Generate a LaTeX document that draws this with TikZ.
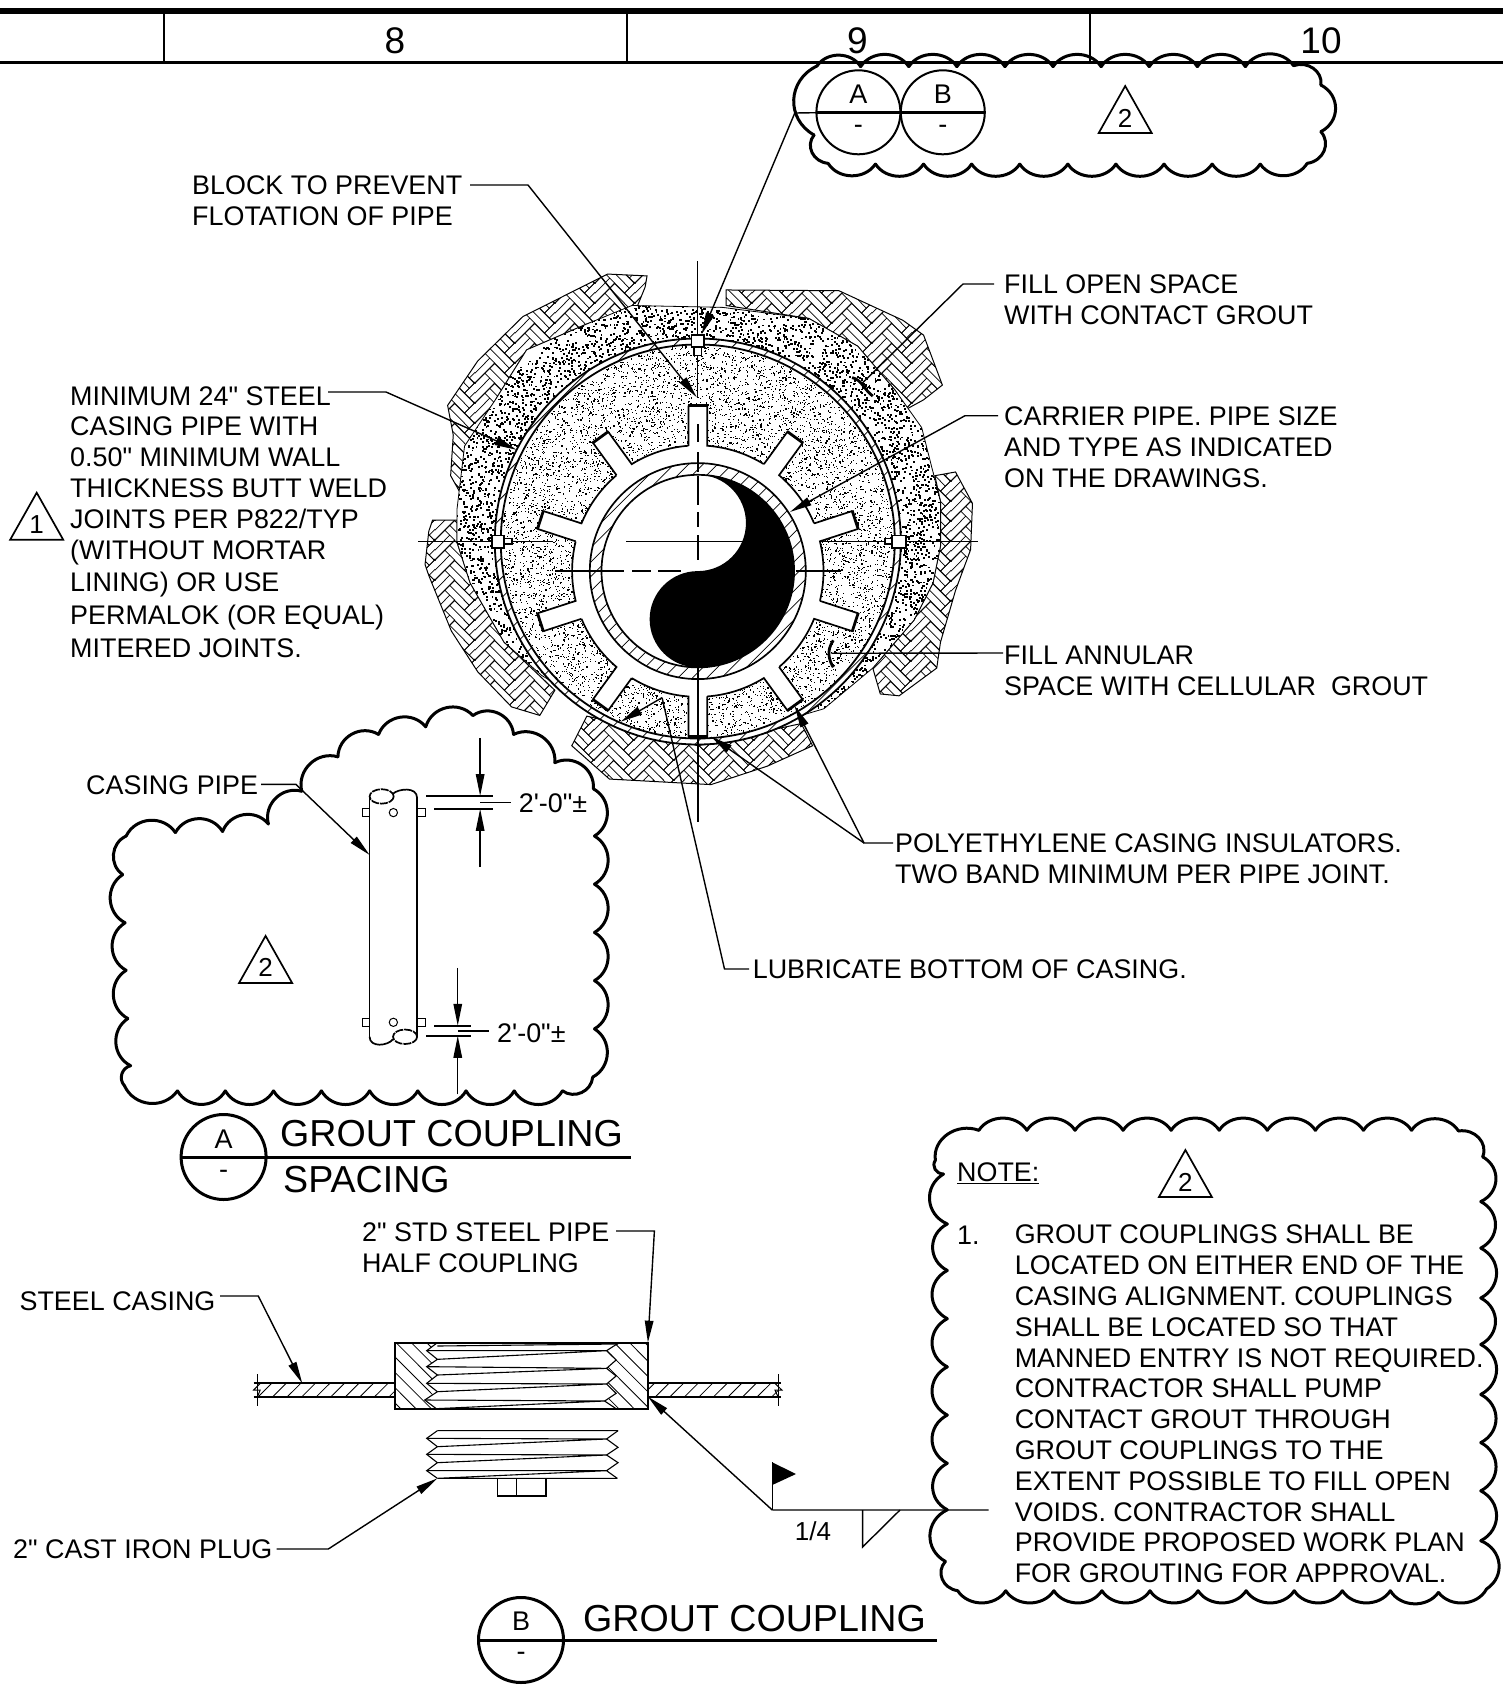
\documentclass[tikz,border=0pt]{standalone}
\usepackage{fontspec}
\setmainfont{Liberation Sans}[Ligatures=TeXOff]
\usetikzlibrary{arrows.meta,patterns}
\pgfmathsetseed{4217}
\pgfdeclarepatternformonly{herring}{\pgfqpoint{0pt}{0pt}}{\pgfqpoint{39.598pt}{19.799pt}}{\pgfqpoint{39.598pt}{19.799pt}}{%
 \pgfsetlinewidth{.75pt}%
 \pgftransformrotate{45}%
 \foreach \i in {-3,...,4}{\foreach \j in {-2,...,2}{%
  \pgfmathsetmacro\U{14*(\i+2*\j)}%
  \pgfmathsetmacro\V{14*(\i-2*\j)}%
  \pgfpathrectangle{\pgfpoint{\U pt}{\V pt}}{\pgfpoint{28pt}{14pt}}%
  \pgfpathmoveto{\pgfpoint{\U pt}{\V pt+7pt}}\pgfpathlineto{\pgfpoint{\U pt+28pt}{\V pt+7pt}}%
  \pgfpathrectangle{\pgfpoint{\U pt+28pt}{\V pt-14pt}}{\pgfpoint{14pt}{28pt}}%
  \pgfpathmoveto{\pgfpoint{\U pt+35pt}{\V pt-14pt}}\pgfpathlineto{\pgfpoint{\U pt+35pt}{\V pt+14pt}}%
  \pgfusepath{stroke}}}}
\tikzset{
 lbl/.style={font=\fontsize{26.9}{30.8}\selectfont,align=left,inner sep=0pt,anchor=west},
 ttl/.style={font=\fontsize{37.6}{40}\selectfont,inner sep=0pt,anchor=west},
 hdr/.style={font=\fontsize{37}{40}\selectfont,inner sep=0pt},
 small/.style={font=\fontsize{26}{28}\selectfont,inner sep=0pt},
 tag/.style={font=\fontsize{27}{28}\selectfont,inner sep=0pt},
 lead/.style={line width=1.4pt,-{Triangle[length=22pt,width=8.5pt]}},
 plainlead/.style={line width=1.4pt},
 cloudline/.style={line width=3pt,line cap=round},
 thin line/.style={line width=.8pt},
 med/.style={line width=1.7pt},
 zmain/.style={shift={(410,250)},xscale=1/2.658,yscale=1/2.703},
 zmainback/.style={xscale=2.658,yscale=2.703,shift={(-410,-250)}},
 ztop/.style={shift={(780,0)},xscale=1/2.703,yscale=1/3},
 zcpl/.style={shift={(220,1220)},xscale=1/2.613,yscale=1/3},
 zcas/.style={shift={(90,700)},scale=1/2.904},
 znote/.style={shift={(900,1100)},xscale=1/2.6,yscale=1/2.904},
}
% scalloped revision cloud through a closed list of cusps
\newcommand\cloudpath[1]{%
 \foreach \x/\y [remember=\x as \lx (initially 0),remember=\y as \ly (initially 0),count=\c] in {#1}{%
  \ifnum\c>1 \draw[cloudline] (\lx,\ly) to[bend right=60,looseness=1.12] (\x,\y);\fi}}
% random dots in an annulus; radii in hundreds of px
\newcommand\stipple[6]{%
 \foreach \i in {1,...,#1}{%
  \pgfmathsetmacro\ang{360*rnd}%
  \pgfmathsetmacro\rad{100*sqrt(#4*#4+(#5*#5-#4*#4)*rnd)}%
  \pgfmathsetmacro\xx{#2+\rad*cos(\ang)}%
  \pgfmathsetmacro\yy{#3+\rad*sin(\ang)}%
  \pgfpathrectangle{\pgfpoint{\xx pt}{\yy pt}}{\pgfqpoint{#6pt}{#6pt}}\pgfusepath{fill}}}
\newcommand\revtri[4]{%
 \draw[med] (#2,#3) -- ++(-26.5,47) -- ++(53,0) -- cycle;
 \node[small] (#1) at (#2,#3+32) {#4};}
\def\RegA{(630,70) -- (525,65) -- (300,180) -- (180,300) -- (100,420) -- (115,500) -- (108,610) -- (130,650) -- (230,400) -- (310,270) -- (470,200) -- (605,150) -- (625,100) -- cycle}
\def\RegB{(840,108) -- (1140,110) -- (1310,190) -- (1365,230) -- (1415,365) -- (1365,405) -- (1320,430) -- (1290,380) -- (1190,260) -- (1060,185) -- (840,150) -- cycle}
\def\RegC{(1450,600) -- (1495,685) -- (1490,810) -- (1450,920) -- (1410,1060) -- (1400,1130) -- (1300,1205) -- (1250,1200) -- (1230,1130) -- (1340,1000) -- (1390,900) -- (1410,800) -- (1410,680) -- (1395,610) -- cycle}
\def\RegD{(430,1340) -- (470,1260) -- (560,1280) -- (765,1340) -- (1040,1280) -- (1070,1340) -- (950,1395) -- (800,1445) -- (530,1430) -- cycle}
\def\RegE{(60,730) -- (125,730) -- (125,790) -- (160,900) -- (250,1060) -- (385,1190) -- (345,1258) -- (270,1235) -- (180,1140) -- (110,1030) -- (50,880) -- (40,850) -- (50,760) -- cycle}
\def\RegS{(125,790) -- (125,700) -- (145,530) -- (230,400) -- (310,270) -- (470,200) -- (590,150) -- (830,155) -- (1060,185) -- (1190,260) -- (1290,380) -- (1360,480) -- (1410,680) -- (1410,800) -- (1390,900) -- (1340,1000) -- (1230,1130) -- (1100,1240) -- (900,1300) -- (600,1300) -- (350,1150) -- (250,1060) -- (160,900) -- cycle}
\begin{document}
\begin{tikzpicture}[x=1pt,y=1pt,yscale=-1,line join=miter]
\useasboundingbox (0,0) rectangle (1503,1690);
\fill[white] (0,0) rectangle (1503,1690);

% ---- title strip
\draw[line width=6.5pt] (0,11) -- (1503,11);
\draw[line width=3.4pt] (0,62.7) -- (1503,62.7);
\draw[line width=2pt] (164,12) -- (164,62) (626.5,12) -- (626.5,62) (1090,12) -- (1090,62);
\node[hdr] (col8) at (395,41) {8};
\node[hdr] (col9) at (857.5,41) {9};
\node[hdr] (col10) at (1321,41) {10};

% ---- herringbone ground and contact grout
\begin{scope}[zmain,line width=1pt]
 \fill[pattern=herring] \RegA; \fill[pattern=herring] \RegB; \fill[pattern=herring] \RegC; \fill[pattern=herring] \RegD; \fill[pattern=herring] \RegE;
 \draw \RegA; \draw \RegB; \draw \RegC; \draw \RegD; \draw \RegE;
 \fill[white] \RegS;
 \draw[thin line] \RegS;
\end{scope}
\begin{scope}[zmain]
 \clip \RegS;
 \begin{scope}[zmainback]
  \stipple{4800}{697.8}{541.5}{2.0}{2.5}{1.9}
 \end{scope}
\end{scope}
% casing pipe
\begin{scope}
 \fill[white] (697.8,541.5) circle[radius=203];
 \clip (697.8,541.5) circle[radius=203];
 \foreach \k in {-22,...,22}{\draw[thin line] ({697.8+\k*20-220},{541.5+220}) -- ++(440,-440);}
\end{scope}
\fill[white] (697.8,541.5) circle[radius=197];
\draw[line width=1.8pt] (697.8,541.5) circle[radius=203];
\draw[line width=1.8pt] (697.8,541.5) circle[radius=197];
% cellular grout
\stipple{9000}{697.8}{541.5}{.75}{1.96}{1.2}
% insulator
\fill[white] (697.8,571.1) circle[radius=125.7];
\foreach \a in {-90,-54,-18,18,54,90,126,162,198,234}{
 \begin{scope}[shift={(697.8,571.1)},rotate=\a]
  \fill[white] (120,-9.4) rectangle (165.5,9.4);
  \draw[med] (125.35,-9.4) -- (165.5,-9.4) (165.5,9.4) -- (125.35,9.4) arc[start angle=4.29,end angle=31.71,radius=125.7];
  \draw[line width=2.8pt] (165.5,-10) -- (165.5,10);
 \end{scope}}
% carrier pipe
\begin{scope}
 \fill[white] (697.8,571.1) circle[radius=108];
 \clip (697.8,571.1) circle[radius=108];
 \foreach \k in {-12,...,12}{\draw[thin line] ({697.8+\k*14.5-120},{571.1+120}) -- ++(240,-240);}
\end{scope}
\fill[white] (697.8,571.1) circle[radius=96.3];
\draw[med] (697.8,571.1) circle[radius=108];
\draw[med] (697.8,571.1) circle[radius=96.3];
\fill[black] (697.8,474.8) arc[start angle=-90,end angle=90,radius=96.3]
  arc[start angle=90,end angle=270,radius=48.15]
  arc[start angle=90,end angle=-90,radius=48.15] -- cycle;
% centre lines
\draw[line width=1pt] (418,541.5) -- (553,541.5) (626,541.5) -- (743,541.5) (820,541.5) -- (978,541.5);
\draw[line width=1pt] (697.8,261) -- (697.8,398);
\draw[line width=1.5pt] (697.8,424) -- (697.8,442) (697.8,452) -- (697.8,472) (697.8,476) -- (697.8,505) (697.8,512) -- (697.8,527) (697.8,535) -- (697.8,560);
\draw[med] (697.8,668) -- (697.8,821.6);
\draw[med] (555,571.1) -- (624,571.1) (632,571.1) -- (651,571.1) (658,571.1) -- (681,571.1) (795.6,571.1) -- (841,571.1);
% couplings on the casing
\begin{scope}[zmain,med]
 \draw[fill=white] (755,262) rectangle (775,285);
 \draw[fill=white] (748,230) rectangle (782,262);
 \draw[fill=white] (250,780) rectangle (272,795);
 \draw[fill=white] (218,772) rectangle (250,805);
 \draw[fill=white] (1262,780) rectangle (1282,795);
 \draw[fill=white] (1282,772) rectangle (1318,805);
 % squiggles
 \draw[line width=2.8pt] (1175,345) .. controls (1200,350) and (1205,375) .. (1230,395);
 \draw[line width=2.8pt] (1125,1055) .. controls (1105,1085) and (1115,1110) .. (1125,1128);
 % free ends of leaders
 \coordinate (tBlock) at (762,398);
 \coordinate (tAB) at (775,228);
 \coordinate (tFill) at (1200,362);
 \coordinate (tCarrier) at (1010,708);
 \coordinate (tAnn) at (1120,1090);
 \coordinate (tIns1) at (1022,1232);
 \coordinate (tIns2) at (800,1315);
 \coordinate (tLub1) at (670,1210);
 \coordinate (tLub2) at (560,1275);
 \coordinate (tMin) at (283,540);
\end{scope}

% ---- main labels
\node[lbl] (nBlock) at (192,201) {BLOCK TO PREVENT\\FLOTATION OF PIPE};
\node[lbl] (nFill) at (1004,300) {FILL OPEN SPACE\\WITH CONTACT GROUT};
\node[lbl] (nCarrier) at (1004,447.5) {CARRIER PIPE. PIPE SIZE\\AND TYPE AS INDICATED\\ON THE DRAWINGS.};
\node[lbl] (nAnn) at (1004,671) {FILL ANNULAR\\SPACE WITH CELLULAR\ \ GROUT};
\node[lbl] (nIns) at (895,859) {POLYETHYLENE CASING INSULATORS.\\TWO BAND MINIMUM PER PIPE JOINT.};
\node[lbl] (nLub) at (752.6,969) {LUBRICATE BOTTOM OF CASING.};
\node[lbl] (nMin) at (70,522) {MINIMUM 24" STEEL\\CASING PIPE WITH\\0.50" MINIMUM WALL\\THICKNESS BUTT WELD\\JOINTS PER P822/TYP\\(WITHOUT MORTAR\\[2pt]LINING) OR USE\\[2pt]PERMALOK (OR EQUAL)\\[2pt]MITERED JOINTS.};
\revtri{tri1}{36.7}{492.7}{1}

\coordinate (eBlock0) at (470,185); \coordinate (eBlock) at (528,185);
\draw[lead] (eBlock0) -- (eBlock) -- (tBlock);
\coordinate (eFill0) at (994,284); \coordinate (eFill) at (963,284);
\draw[plainlead] (eFill0) -- (eFill) -- (tFill);
\coordinate (eCar0) at (998,415.7); \coordinate (eCar) at (965,415.7);
\draw[lead] (eCar0) -- (eCar) -- (tCarrier);
\coordinate (eAnn0) at (1003,653);
\draw[plainlead] (eAnn0) -- (tAnn);
\coordinate (eIns0) at (893,843); \coordinate (eIns) at (864,843);
\draw[lead] (eIns0) -- (eIns) -- (tIns1);
\draw[lead] (eIns) -- (tIns2);
\coordinate (eLub0) at (749,969); \coordinate (eLub) at (724.5,969);
\draw[plainlead] (eLub0) -- (eLub) -- (tLub1);
\draw[lead] (tLub1) -- (tLub2);
\coordinate (eMin0) at (328,392); \coordinate (eMin) at (386,392);
\draw[lead] (eMin0) -- (eMin) -- (tMin);

% ---- top cloud and section marks
\begin{scope}[ztop]
 \cloudpath{100/198,218/200,348/200,478/200,608/200,738/200,868/200,998/200,1128/200,1258/200,1388/197,1462/255,1462/395,1425/490,1298/492,1168/492,1038/492,908/492,778/492,648/492,518/492,388/492,258/492,130/490,92/405,100/198}
\end{scope}
\draw[line width=2pt] (858.4,112.3) circle[radius=42];
\draw[line width=2pt] (942.8,112.3) circle[radius=42];
\draw[line width=2.8pt] (816,112.3) -- (985,112.3);
\node[tag] (secA) at (858.4,94) {A};
\node[tag] (secAd) at (858.4,129) {-};
\node[tag] (secB) at (942.8,94) {B};
\node[tag] (secBd) at (942.8,129) {-};
\coordinate (eAB) at (794.8,113);
\draw[lead] (816,112.7) -- (eAB) -- (tAB);
\revtri{tri2a}{1125.2}{86}{2}

% ---- casing pipe view
\begin{scope}[zcas]
 \cloudpath{615/265,720/165,838/100,975/78,1112/45,1230/100,1350/182,1462/258,1465/395,1465/535,1465/675,1465/815,1465/955,1460/1095,1372/1135,1232/1135,1092/1135,952/1135,812/1135,672/1135,533/1135,393/1135,254/1135,100/1120,118/1062,110/925,105/785,102/647,95/507,105/395,248/385,385/382,518/360,615/265}
 \draw[med] (812,285) -- (812,978) (950,285) -- (950,978);
 \draw[med] (880,272) .. controls (895,258) and (950,250) .. (950,285);
 \draw[med,dash pattern=on 8pt off 1pt] (847,280) ellipse[x radius=35,y radius=21];
 \draw[med] (812,978) .. controls (812,1010) and (865,1005) .. (880,985);
 \draw[med,dash pattern=on 8pt off 1pt] (915,978) ellipse[x radius=35,y radius=21];
 \draw[line width=1pt] (790,316) rectangle (812,338) (952,316) rectangle (975,338) (790,925) rectangle (812,948) (952,925) rectangle (975,948);
 \draw[line width=1pt] (881,327) circle[radius=12] (881,936) circle[radius=12];
 \draw[med] (977,279) -- (1170,279) (1000,316) -- (1170,316);
 \draw[plainlead] (1133,298) -- (1222,298);
 \draw[lead] (1133,110) -- (1133,279);
 \draw[lead] (1133,485) -- (1133,316);
 \draw[med] (1000,946) -- (1105,946) (977,975) -- (1105,975);
 \draw[plainlead] (1068,961) -- (1160,961);
 \draw[lead] (1068,778) -- (1068,946);
 \draw[lead] (1068,1145) -- (1068,975);
 \coordinate (eCas0) at (497,245); \coordinate (eCas) at (598,245); \coordinate (tCas) at (812,450);
\end{scope}
\draw[lead] (eCas0) -- (eCas) -- (tCas);
\node[lbl] (nCas) at (86,785) {CASING PIPE};
\node[lbl] (dimA) at (518.6,803) {2'-0"±};
\node[lbl] (dimB) at (497,1033) {2'-0"±};
\revtri{tri2b}{265.6}{935.9}{2}

% ---- section title A
\draw[line width=3pt] (223.6,1157) circle[radius=42.5];
\draw[line width=3pt] (181,1157) -- (631,1157);
\node[tag] (ttlA) at (223.6,1139) {A};
\node[tag] (ttlAd) at (223.6,1174) {-};
\node[ttl] (ttlA1) at (280,1134) {GROUT COUPLING};
\node[ttl] (ttlA2) at (283,1179.5) {SPACING};

% ---- coupling detail
\begin{scope}[zcpl]
 \begin{scope}
  \clip (458,368) -- (568,368) -- (540,392) -- (568,418) -- (540,440) -- (568,465) -- (540,490) -- (568,515) -- (535,540) -- (565,566) -- (458,566) -- cycle;
  \foreach \k in {0,...,10}{\draw[thin line] ({300+\k*40},368) -- ++(172,198);}
 \end{scope}
 \begin{scope}
  \clip (1118,368) -- (1040,370) -- (1010,392) -- (1035,420) -- (1010,445) -- (1035,468) -- (1010,492) -- (1035,520) -- (1005,543) -- (1035,566) -- (1118,566) -- cycle;
  \foreach \k in {0,...,10}{\draw[thin line] ({830+\k*40},368) -- ++(172,198);}
 \end{scope}
 \draw[line width=1.1pt] (568,368) -- (540,392) -- (568,418) -- (540,440) -- (568,465) -- (540,490) -- (568,515) -- (535,540) -- (565,566);
 \draw[line width=1.1pt] (1040,370) -- (1010,392) -- (1035,420) -- (1010,445) -- (1035,468) -- (1010,492) -- (1035,520) -- (1005,543) -- (1035,566);
 \draw[line width=1.1pt] (568,378) -- (1040,372) (540,392) -- (1010,392) (568,418) -- (1010,392) (540,440) -- (1010,445) (568,465) -- (1010,445) (540,490) -- (1010,492) (568,515) -- (1010,492) (535,540) -- (1005,543) (565,566) -- (1005,543);
 \draw[line width=2pt] (458,368) rectangle (1118,566);
 \begin{scope}
  \clip (97,490) rectangle (458,530);
  \foreach \k in {0,...,9}{\draw[thin line] ({100+\k*38},530) -- ++(35,-40);}
 \end{scope}
 \begin{scope}
  \clip (1118,490) rectangle (1458,530);
  \foreach \k in {0,...,9}{\draw[thin line] ({1100+\k*38},530) -- ++(35,-40);}
 \end{scope}
 \draw[med] (88,490) -- (458,490) (88,530) -- (458,530) (1118,490) -- (1465,490) (1118,530) -- (1465,530);
 \draw[line width=1pt] (97,463) -- (97,558) (1458,463) -- (1458,558);
 \draw[line width=1pt] (105,490) -- (88,510) -- (105,510) -- (98,530) (1450,490) -- (1468,510) -- (1450,510) -- (1458,530);
 % plug
 \draw[line width=1.1pt] (568,632) -- (540,655) -- (568,680) -- (540,703) -- (568,728) -- (540,752) -- (568,775);
 \draw[line width=1.1pt] (1040,632) -- (1010,657) -- (1040,682) -- (1010,705) -- (1040,728) -- (1010,752) -- (1038,775);
 \draw[line width=1.1pt] (568,632) -- (1040,632) (540,655) -- (1010,657) (568,680) -- (1010,657) (540,703) -- (1010,705) (568,728) -- (1010,705) (540,752) -- (1010,752) (568,775) -- (1010,752) (568,775) -- (1038,775);
 \draw[line width=1.3pt] (725,775) rectangle (852,828) (775,775) -- (775,828);
 % leaders
 \coordinate (eHalf0) at (1035,33); \coordinate (eHalf) at (1135,33); \coordinate (tHalf) at (1118,368);
 \coordinate (eSteel0) at (0,228); \coordinate (eSteel) at (100,228); \coordinate (tSteel) at (215,490);
 \coordinate (ePlug0) at (148,987); \coordinate (ePlug) at (283,987); \coordinate (tPlug) at (568,775);
 \coordinate (wRoot) at (1443,870); \coordinate (tWeld) at (1118,530); \coordinate (wTop) at (1443,727);
 \fill (1443,727) -- (1505,762) -- (1443,795) -- cycle;
\end{scope}
\draw[lead] (eHalf0) -- (eHalf) -- (tHalf);
\draw[lead] (eSteel0) -- (eSteel) -- (tSteel);
\draw[lead] (ePlug0) -- (ePlug) -- (tPlug);
\draw[lead] (wRoot) -- (tWeld);
\draw[plainlead] (wRoot) -- (wTop);
\coordinate (wEnd) at (988.5,1510);
\draw[plainlead] (wRoot) -- (wEnd);
\coordinate (f1) at (862.6,1510); \coordinate (f2) at (862.6,1547); \coordinate (f3) at (900,1510);
\draw[plainlead] (f1) -- (f2) -- (f3);
\node[lbl] (nHalf) at (362,1247.5) {2" STD STEEL PIPE\\HALF COUPLING};
\node[lbl] (nSteel) at (19.4,1301) {STEEL CASING};
\node[lbl] (nPlug) at (13,1549) {2" CAST IRON PLUG};
\node[small] (nWeld) at (813,1531) {1/4};

% ---- section title B
\draw[line width=3pt] (521,1640) circle[radius=42.5];
\draw[line width=3pt] (478.5,1640) -- (937,1640);
\node[tag] (ttlB) at (521,1621) {B};
\node[tag] (ttlBd) at (521,1656) {-};
\node[ttl] (ttlB1) at (583,1619) {GROUT COUPLING};

% ---- note cloud
\begin{scope}[znote]
 \cloudpath{92/175,205/88,330/88,455/88,580/88,705/88,830/88,955/88,1080/88,1205/88,1330/88,1452/90,1515/165,1510/295,1510/430,1510/575,1510/710,1510/855,1510/995,1510/1135,1510/1280,1525/1420,1400/1430,1275/1425,1150/1425,1025/1425,900/1425,775/1425,650/1425,525/1425,400/1425,275/1425,150/1425,118/1340,123/1190,123/1055,123/915,123/775,123/635,123/495,123/360,113/215,92/175}
\end{scope}
\node[lbl] (nNote) at (957,1173) {\underline{NOTE:}};
\revtri{tri2c}{1185.4}{1150}{2}
\node[lbl] (nOne) at (957,1235.6) {1.};
\node[lbl] (nBody) at (1014.6,1404) {GROUT COUPLINGS SHALL BE\\LOCATED ON EITHER END OF THE\\CASING ALIGNMENT. COUPLINGS\\SHALL BE LOCATED SO THAT\\MANNED ENTRY IS NOT REQUIRED.\\CONTRACTOR SHALL PUMP\\CONTACT GROUT THROUGH\\GROUT COUPLINGS TO THE\\EXTENT POSSIBLE TO FILL OPEN\\VOIDS. CONTRACTOR SHALL\\PROVIDE PROPOSED WORK PLAN\\FOR GROUTING FOR APPROVAL.};
\end{tikzpicture}
\end{document}
